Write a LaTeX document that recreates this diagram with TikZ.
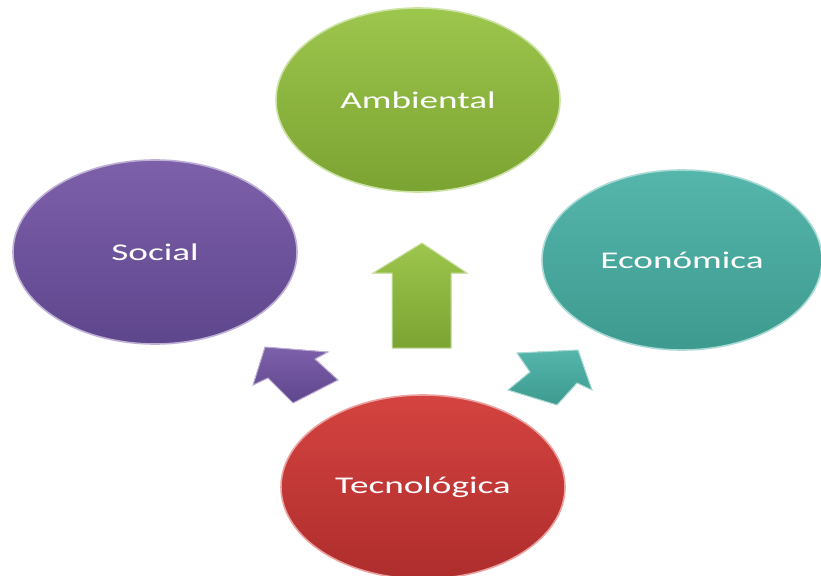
\documentclass[tikz,border=0pt]{standalone}
\usepackage{fontspec}
\newfontfamily\widesans[FakeStretch=1.55]{Carlito}
\usepackage{tikz}
\usetikzlibrary{shapes.geometric}
\definecolor{ambtop}{HTML}{9CC64C}
\definecolor{ambbot}{HTML}{7BA332}
\definecolor{soctop}{HTML}{7D60AA}
\definecolor{socbot}{HTML}{5E468C}
\definecolor{ecotop}{HTML}{55B6AB}
\definecolor{ecobot}{HTML}{3D9A8F}
\definecolor{tectop}{HTML}{D4433F}
\definecolor{tecbot}{HTML}{AE2D2D}

\begin{document}
\begin{tikzpicture}[x=1pt, y=-1pt,
    field/.style={ellipse, minimum width=284pt, minimum height=184pt,
      inner sep=0pt, line width=1.6pt, text=white,
      font=\widesans\fontsize{24}{28}\selectfont},
    blockarrow/.style={line width=1pt, line join=miter}]

  \useasboundingbox (0,0) rectangle (821,575);

  % the four fields
  \node [field, top color=ambtop, bottom color=ambbot, draw=ambtop!50!white]
    (amb) at (418,100) {Ambiental};
  \node [field, top color=soctop, bottom color=socbot, draw=soctop!50!white]
    (soc) at (155,252) {Social};
  \node [field, top color=ecotop, bottom color=ecobot, draw=ecotop!50!white,
    minimum width=280pt, minimum height=180pt]
    (eco) at (682,260) {Económica};
  \node [field, top color=tectop, bottom color=tecbot, draw=tectop!50!white]
    (tec) at (423,487) {Tecnológica};

  % block arrows
  \filldraw [blockarrow, top color=ambtop, bottom color=ambbot, draw=ambtop!50!white]
    (422,243) -- (467,273) -- (451,273) -- (451,348) -- (392,348)
    -- (392,273) -- (373,273) -- cycle;
  \filldraw [blockarrow, top color=soctop, bottom color=socbot, draw=soctop!50!white]
    (265,347) -- (328,352) -- (315,359) -- (338,380) -- (293,403)
    -- (268,378) -- (253,385) -- cycle;
  \filldraw [blockarrow, top color=ecotop, bottom color=ecobot, draw=ecotop!50!white]
    (578,350) -- (592,390) -- (577,383) -- (557,405) -- (508,390)
    -- (530,372) -- (517,353) -- cycle;

\end{tikzpicture}
\end{document}
